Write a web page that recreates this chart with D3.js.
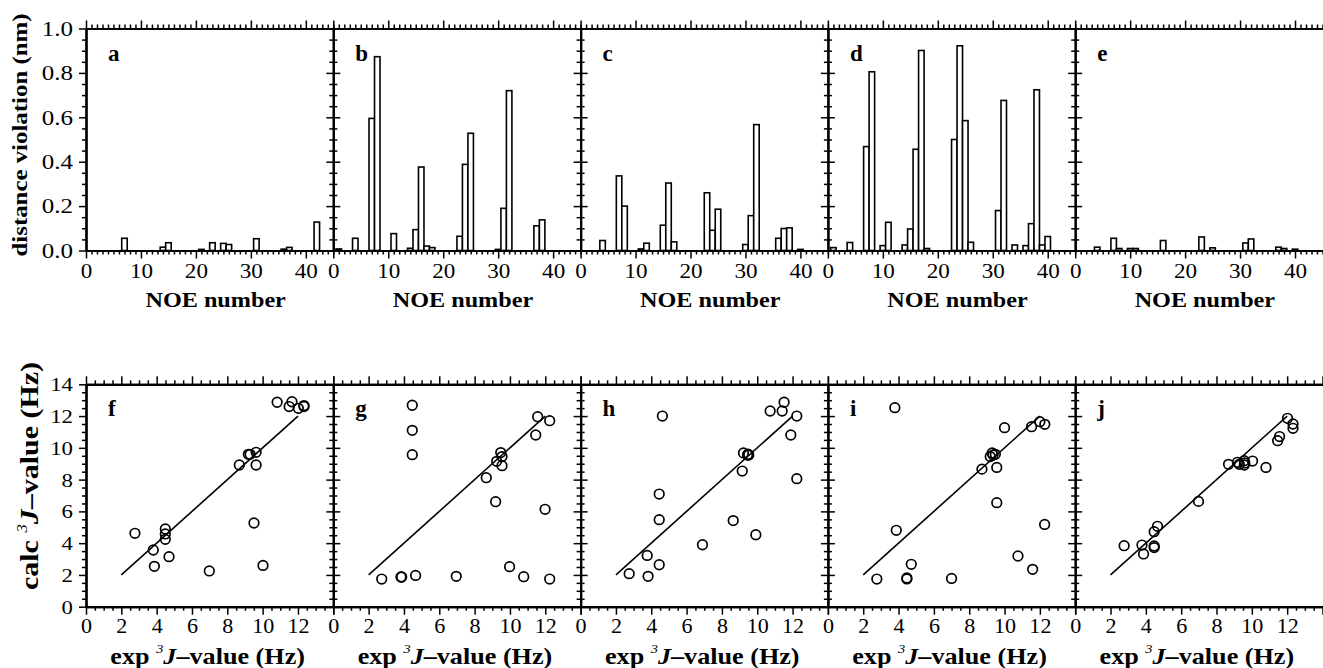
<!DOCTYPE html>
<html><head><meta charset="utf-8">
<script src="https://cdn.jsdelivr.net/npm/d3@7"></script>
<style>
body{margin:0;background:#fff;}
svg{display:block;background:#fff;}
text{font-family:"Liberation Serif","Times New Roman",serif;fill:#000;}
</style></head><body>
<svg id="chart" width="1323" height="668"></svg>
<script>
// ---------- data ----------
const noeTicks = [0, 10, 20, 30, 40];
const violTicks = [0, 0.2, 0.4, 0.6, 0.8, 1.0];
const jTicks = [0, 2, 4, 6, 8, 10, 12];
const calcTicks = [0, 2, 4, 6, 8, 10, 12, 14];
const barPanels = ["a", "b", "c", "d", "e"];
const scatterPanels = ["f", "g", "h", "i", "j"];
const diagonal = [2, 12];

// distance violation (nm) per NOE number
const noeA = [7, 14, 15, 21, 23, 25, 26, 31, 36, 37, 42];
const violA = [0.055, 0.015, 0.035, 0.005, 0.035, 0.032, 0.027, 0.053, 0.006, 0.014, 0.128];
const noeB = [1, 4, 7, 8, 11, 14, 15, 16, 17, 18, 23, 24, 25, 30, 31, 32, 37, 38];
const violB = [0.007, 0.055, 0.595, 0.873, 0.076, 0.01, 0.094, 0.376, 0.02, 0.013, 0.064, 0.388, 0.528, 0.005, 0.19, 0.72, 0.111, 0.138];
const noeC = [4, 7, 8, 11, 12, 15, 16, 17, 23, 24, 25, 30, 31, 32, 36, 37, 38, 40];
const violC = [0.045, 0.336, 0.2, 0.007, 0.033, 0.114, 0.304, 0.039, 0.26, 0.091, 0.186, 0.027, 0.157, 0.567, 0.055, 0.099, 0.102, 0.005];
const noeD = [1, 4, 7, 8, 10, 11, 14, 15, 16, 17, 18, 23, 24, 25, 26, 31, 32, 34, 36, 37, 38, 39, 40];
const violD = [0.013, 0.036, 0.468, 0.805, 0.022, 0.127, 0.025, 0.097, 0.456, 0.901, 0.009, 0.5, 0.922, 0.585, 0.037, 0.18, 0.676, 0.025, 0.022, 0.121, 0.724, 0.025, 0.063];
const noeE = [4, 7, 8, 10, 11, 16, 23, 25, 31, 32, 37, 38, 40];
const violE = [0.015, 0.055, 0.009, 0.009, 0.009, 0.045, 0.061, 0.012, 0.034, 0.052, 0.015, 0.009, 0.006];

// experimental vs calculated 3J-values (Hz)
const expF = [2.77, 3.81, 3.87, 4.49, 4.49, 4.49, 4.70, 6.98, 8.68, 9.19, 9.29, 9.63, 9.63, 9.51, 10.02, 10.82, 11.5, 11.66, 12.02, 12.34, 12.34];
const calcF = [4.62, 3.57, 2.54, 4.89, 4.58, 4.24, 3.15, 2.25, 8.92, 9.59, 9.59, 9.72, 8.92, 5.27, 2.6, 12.87, 12.6, 12.9, 12.49, 12.66, 12.6];
const expG = [2.74, 3.83, 3.87, 4.66, 4.47, 4.47, 4.47, 6.96, 8.66, 9.19, 9.25, 9.48, 9.55, 9.55, 9.98, 10.78, 11.46, 11.57, 11.99, 12.25, 12.25];
const calcG = [1.74, 1.87, 1.87, 1.97, 12.68, 11.1, 9.57, 1.91, 8.12, 6.61, 9.15, 9.7, 9.45, 8.88, 2.52, 1.89, 10.81, 11.96, 6.13, 1.74, 11.71];
const expH = [2.75, 3.82, 3.77, 4.45, 4.45, 4.45, 4.63, 6.9, 8.64, 9.15, 9.22, 9.45, 9.52, 9.48, 9.92, 10.73, 11.41, 11.52, 11.9, 12.24, 12.24];
const calcH = [2.08, 1.91, 3.23, 2.64, 5.48, 7.09, 12.0, 3.9, 5.42, 8.54, 9.68, 9.55, 9.55, 9.6, 4.53, 12.32, 12.32, 12.87, 10.81, 12.0, 8.06];
const expI = [2.77, 3.79, 3.87, 4.47, 4.47, 4.72, 7.0, 8.72, 9.19, 9.3, 9.48, 9.35, 9.56, 9.56, 10.0, 10.76, 11.53, 11.59, 12.0, 12.28, 12.27];
const calcI = [1.74, 12.53, 4.81, 1.81, 1.75, 2.67, 1.78, 8.66, 9.45, 9.68, 9.59, 9.55, 8.77, 6.55, 11.27, 3.19, 11.33, 2.35, 11.65, 11.48, 5.18];
const expJ = [2.77, 3.78, 3.87, 4.47, 4.66, 4.47, 4.47, 6.98, 8.68, 9.19, 9.29, 9.57, 9.57, 9.6, 10.04, 10.8, 11.46, 11.57, 12.02, 12.33, 12.33];
const calcJ = [3.84, 3.88, 3.32, 4.72, 5.06, 3.82, 3.72, 6.63, 8.96, 9.09, 8.96, 9.19, 8.92, 9.05, 9.17, 8.77, 10.45, 10.71, 11.86, 11.5, 11.23];

const barData = [[noeA, violA], [noeB, violB], [noeC, violC], [noeD, violD], [noeE, violE]];
const scatterData = [[expF, calcF], [expG, calcG], [expH, calcH], [expI, calcI], [expJ, calcJ]];

// ---------- layout ----------
const svg = d3.select("#chart");
const X0 = 86, PW = 247.3;
const topY0 = 28.5, topY1 = 250.5, botY0 = 384.3, botY1 = 606.7;

const yViol = d3.scaleLinear().domain([0, 1]).range([topY1, topY0]);
const yCalc = d3.scaleLinear().domain([0, 14]).range([botY1, botY0]);

function clean(g) {
  g.attr("font-family", null).attr("font-size", null);
  g.select(".domain").attr("stroke-width", 2.2).attr("stroke", "#000");
  g.selectAll(".tick line").attr("stroke-width", 1.5).attr("stroke", "#000");
  return g;
}

function styleXLabels(g, size, sx, baseY) {
  g.selectAll(".tick text")
    .attr("font-size", size)
    .attr("y", null).attr("dy", null)
    .attr("transform", `translate(0,${baseY}) scale(${sx},1)`);
}
function styleYLabels(g, size, sx, off) {
  g.selectAll(".tick text")
    .attr("font-size", size)
    .attr("x", null).attr("dy", "0.34em")
    .attr("transform", `translate(${-off},0) scale(${sx},1)`);
}

function text(x, y, str, size, sx, opts = {}) {
  const rot = opts.rotate ? ` rotate(${opts.rotate})` : "";
  return svg.append("text")
    .attr("transform", `translate(${x},${y})${rot} scale(${sx},1)`)
    .attr("font-size", size)
    .attr("font-weight", opts.bold ? "bold" : null)
    .attr("text-anchor", opts.anchor || "start")
    .text(str);
}

function jTitle(x, y, prefix, size, sx, rotate) {
  const rot = rotate ? ` rotate(${rotate})` : "";
  const t = svg.append("text")
    .attr("transform", `translate(${x},${y})${rot} scale(${sx},1)`)
    .attr("font-size", size).attr("font-weight", "bold").attr("text-anchor", "middle");
  t.append("tspan").text(prefix + " ");
  t.append("tspan").attr("font-style", "italic").attr("font-weight", "normal")
    .attr("font-size", size * 0.55).attr("dy", -size * 0.45).text("3");
  t.append("tspan").attr("font-style", "italic").attr("dy", size * 0.45).text("J");
  t.append("tspan").text("\u2013value (Hz)");
}

// ---------- top row: bar panels ----------
barPanels.forEach((letter, i) => {
  const px = X0 + i * PW;
  const x = d3.scaleLinear().domain([0, 45]).range([px, px + PW]);
  const [noe, viol] = barData[i];
  const g = svg.append("g");
  const unit = x(1) - x(0);

  g.selectAll("rect").data(noe.map((n, k) => [n, viol[k]])).join("rect")
    .attr("x", d => x(d[0] - 0.5))
    .attr("width", unit)
    .attr("y", d => yViol(d[1]))
    .attr("height", d => yViol(0) - yViol(d[1]))
    .attr("fill", "#fff").attr("stroke", "#000").attr("stroke-width", 1.6);

  const minorX = d3.range(0, 46).filter(v => v % 10 !== 0);
  // bottom axis
  clean(g.append("g").attr("transform", `translate(0,${topY1})`)
    .call(d3.axisBottom(x).tickValues(minorX).tickSize(4).tickFormat("").tickSizeOuter(0)));
  const bx = clean(g.append("g").attr("transform", `translate(0,${topY1})`)
    .call(d3.axisBottom(x).tickValues(noeTicks).tickSize(8).tickSizeOuter(0)));
  styleXLabels(bx, 22, 1.05, 27.5);
  // top axis
  clean(g.append("g").attr("transform", `translate(0,${topY0})`)
    .call(d3.axisTop(x).tickValues(minorX).tickSize(4).tickFormat("").tickSizeOuter(0)));
  clean(g.append("g").attr("transform", `translate(0,${topY0})`)
    .call(d3.axisTop(x).tickValues(noeTicks).tickSize(8).tickFormat("").tickSizeOuter(0)));

  // left axis
  const minorY = d3.range(0, 21).filter(k => k % 4 !== 0).map(k => k / 20);
  const lm = clean(g.append("g").attr("transform", `translate(${px},0)`)
    .call(d3.axisLeft(yViol).tickValues(minorY).tickSize(4).tickFormat("").tickSizeOuter(0)));
  const lM = clean(g.append("g").attr("transform", `translate(${px},0)`)
    .call(d3.axisLeft(yViol).tickValues(violTicks).tickSize(7).tickSizeOuter(0)
      .tickFormat(i === 0 ? d3.format(".1f") : "")));
  if (i === 0) {
    styleYLabels(lM, 20, 1.25, 13);
  } else {
    lm.selectAll(".tick line").attr("x1", 4);
    lM.selectAll(".tick line").attr("x1", 7);
  }

  text(px + 22, 61, letter, 23, 1.0, { bold: true });
  text(px + PW / 2 + 6, 307, "NOE number", 22, 1.1, { bold: true, anchor: "middle" });
});

// ---------- bottom row: scatter panels ----------
scatterPanels.forEach((letter, i) => {
  const px = X0 + i * PW;
  const x = d3.scaleLinear().domain([0, 14]).range([px, px + PW]);
  const [ex, ca] = scatterData[i];
  const g = svg.append("g");

  g.append("path")
    .datum(diagonal)
    .attr("d", d3.line().x(d => x(d)).y(d => yCalc(d)))
    .attr("stroke", "#000").attr("stroke-width", 1.6).attr("fill", "none");

  g.selectAll("circle").data(ex.map((v, k) => [v, ca[k]])).join("circle")
    .attr("cx", d => x(d[0])).attr("cy", d => yCalc(d[1]))
    .attr("r", 4.8)
    .attr("fill", "none").attr("stroke", "#000").attr("stroke-width", 1.7);

  const minorX = d3.range(0, 29).filter(k => k % 4 !== 0).map(k => k / 2);
  clean(g.append("g").attr("transform", `translate(0,${botY1})`)
    .call(d3.axisBottom(x).tickValues(minorX).tickSize(4).tickFormat("").tickSizeOuter(0)));
  const bx = clean(g.append("g").attr("transform", `translate(0,${botY1})`)
    .call(d3.axisBottom(x).tickValues(jTicks.concat([14])).tickSize(8).tickSizeOuter(0)
      .tickFormat(d => jTicks.includes(d) ? d : "")));
  styleXLabels(bx, 21, 1.05, 26.5);
  clean(g.append("g").attr("transform", `translate(0,${botY0})`)
    .call(d3.axisTop(x).tickValues(minorX).tickSize(4).tickFormat("").tickSizeOuter(0)));
  clean(g.append("g").attr("transform", `translate(0,${botY0})`)
    .call(d3.axisTop(x).tickValues(jTicks.concat([14])).tickSize(8).tickFormat("").tickSizeOuter(0)));

  const minorY = d3.range(0, 29).filter(k => k % 4 !== 0).map(k => k / 2);
  const lm = clean(g.append("g").attr("transform", `translate(${px},0)`)
    .call(d3.axisLeft(yCalc).tickValues(minorY).tickSize(4).tickFormat("").tickSizeOuter(0)));
  const lM = clean(g.append("g").attr("transform", `translate(${px},0)`)
    .call(d3.axisLeft(yCalc).tickValues(calcTicks).tickSize(7).tickSizeOuter(0)
      .tickFormat(i === 0 ? d3.format("d") : "")));
  if (i === 0) {
    styleYLabels(lM, 19, 1.2, 13);
  } else {
    lm.selectAll(".tick line").attr("x1", 4);
    lM.selectAll(".tick line").attr("x1", 7);
  }

  text(px + 22, 416, letter, 23, 1.0, { bold: true });
  jTitle(px + PW / 2 - 2, 664, "exp", 24, 1.09, 0);
});

// y-axis titles
text(27, 135, "distance violation (nm)", 22, 1.13, { bold: true, anchor: "middle", rotate: -90 });
jTitle(38, 476, "calc", 25, 1.2, -90);
</script>
</body></html>
